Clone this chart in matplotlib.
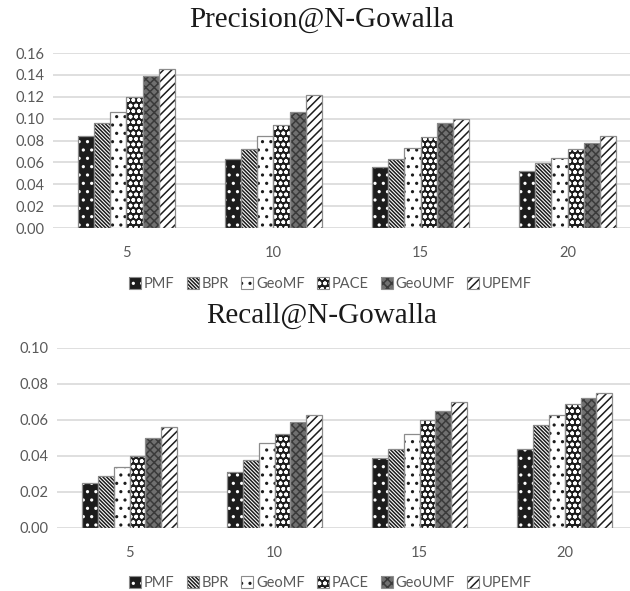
import numpy as np
import matplotlib
matplotlib.use("Agg")
import matplotlib.pyplot as plt
from matplotlib.patches import Patch
from matplotlib.legend_handler import HandlerTuple

# data
top_n = ["5", "10", "15", "20"]
methods = ["PMF", "BPR", "GeoMF", "PACE", "GeoUMF", "UPEMF"]

precision = {
    "PMF":    [0.084, 0.063, 0.056, 0.052],
    "BPR":    [0.096, 0.072, 0.063, 0.059],
    "GeoMF":  [0.106, 0.084, 0.073, 0.064],
    "PACE":   [0.120, 0.094, 0.083, 0.072],
    "GeoUMF": [0.139, 0.106, 0.096, 0.078],
    "UPEMF":  [0.145, 0.122, 0.100, 0.084],
}
recall = {
    "PMF":    [0.025, 0.031, 0.039, 0.044],
    "BPR":    [0.029, 0.038, 0.044, 0.057],
    "GeoMF":  [0.034, 0.047, 0.052, 0.063],
    "PACE":   [0.040, 0.052, 0.060, 0.069],
    "GeoUMF": [0.050, 0.059, 0.065, 0.072],
    "UPEMF":  [0.056, 0.063, 0.070, 0.075],
}

# face colour, hatch, hatch colour
styles = {
    "PMF":    ("#1c1c1c", "..", "white"),
    "BPR":    ("white", "\\" * 9, "#1c1c1c"),
    "GeoMF":  ("white", "..", "#1c1c1c"),
    "PACE":   ("#1c1c1c", "ooo", "white"),
    "GeoUMF": ("#707070", "xxxx", "#3a3a3a"),
    "UPEMF":  ("white", "////", "#1c1c1c"),
}

plt.rcParams["hatch.linewidth"] = 1.1
tick_font = "Lato"
tick_color = "#595959"
outline = "#8c8c8c"

fig = plt.figure(figsize=(6.3, 5.91), dpi=100)


def draw_panel(rect, data, ylim, yticks, title, title_y, legend_y, xmax):
    ax = fig.add_axes(rect)
    x = np.arange(len(top_n))
    w = 0.109
    handles = []
    for i, m in enumerate(methods):
        fc, hatch, hc = styles[m]
        pos = x + (i - 2.5) * w
        ax.bar(pos, data[m], w, color=fc, hatch=hatch, edgecolor=hc,
               linewidth=0, zorder=3)
        ax.bar(pos, data[m], w, fill=False, edgecolor=outline,
               linewidth=0.9, zorder=4)
        h1 = Patch(facecolor=fc, hatch=hatch, edgecolor=hc, linewidth=0)
        h2 = Patch(fill=False, edgecolor=outline, linewidth=0.8)
        handles.append((h1, h2))
    ax.set_xlim(-0.5, xmax)
    ax.set_ylim(*ylim)
    ax.set_yticks(yticks)
    ax.set_yticklabels([f"{v:.2f}" for v in yticks])
    ax.set_xticks(x)
    ax.set_xticklabels(top_n)
    ax.grid(axis="y", color="#d9d9d9", linewidth=1.2, zorder=0)
    ax.set_axisbelow(True)
    for s in ax.spines.values():
        s.set_visible(False)
    ax.tick_params(length=0, labelsize=10.5, labelcolor=tick_color, pad=6)
    ax.tick_params(axis="x", pad=13)
    for lab in ax.get_xticklabels() + ax.get_yticklabels():
        lab.set_fontfamily(tick_font)
    fig.text(0.51, title_y, title, ha="center", va="center",
             family="Liberation Serif", fontsize=21, color="#1a1a1a")
    leg = fig.legend(handles, methods, loc="center", ncol=6,
                     bbox_to_anchor=(0.525, legend_y), frameon=False,
                     handler_map={tuple: HandlerTuple(ndivide=1, pad=0)},
                     handlelength=0.8, handleheight=0.8, handletextpad=0.2,
                     columnspacing=0.85,
                     prop={"family": tick_font, "size": 10.5})
    for t in leg.get_texts():
        t.set_color(tick_color)
    return ax


draw_panel([0.0841, 0.6142, 0.9159, 0.2961], precision, (0, 0.16),
           np.arange(0, 0.161, 0.02), "Precision@N-Gowalla",
           1 - 20 / 591, 1 - 284 / 591, 3.425)
draw_panel([0.0905, 0.1066, 0.9095, 0.3046], recall, (0, 0.10),
           np.arange(0, 0.101, 0.02), "Recall@N-Gowalla",
           1 - 316 / 591, 1 - 583 / 591, 3.45)

fig.savefig("out.png", dpi=100)
